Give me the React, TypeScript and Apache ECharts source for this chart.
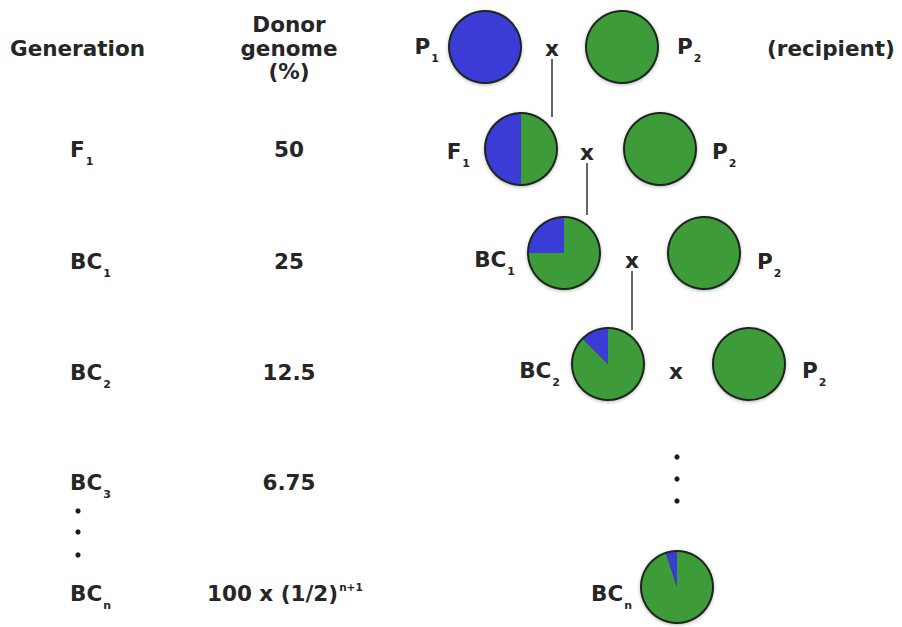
import React, { useEffect, useRef } from 'react';
import * as echarts from 'echarts';

const FONT = "'DejaVu Sans', Verdana, sans-serif";
const TEXT_COLOR = '#262626';
const DONOR_COLOR = '#3b3bd6';
const RECIPIENT_COLOR = '#3d9c39';
const OUTLINE = '#1c261c';
const FS = 21.5;

// Left table
const headerGeneration = 'Generation';
const headerDonor = 'Donor\ngenome\n(%)';
const genBase = ['F', 'BC', 'BC', 'BC', 'BC'];
const genSub = ['1', '1', '2', '3', 'n'];
const donorText = ['50', '25', '12.5', '6.75'];
const formulaBase = '100 x (1/2)';
const formulaSup = 'n+1';

// Crossing scheme: individuals and their donor genome share (%)
const plantBase = ['P', 'P', 'F', 'P', 'BC', 'P', 'BC', 'P', 'BC'];
const plantSub = ['1', '2', '1', '2', '1', '2', '2', '2', 'n'];
const plantDonor = [100, 0, 50, 0, 25, 0, 12.5, 0, 5];
const recipientNote = '(recipient)';

// Layout (positions only)
const R = 36;
const plantLayout = [
  { cx: 485, cy: 47, lx: 439, ly: 46, side: 'left' },
  { cx: 622, cy: 47, lx: 677, ly: 46, side: 'right' },
  { cx: 521, cy: 149, lx: 470, ly: 151, side: 'left' },
  { cx: 660, cy: 149, lx: 712, ly: 151, side: 'right' },
  { cx: 564, cy: 253, lx: 515, ly: 259, side: 'left' },
  { cx: 704, cy: 253, lx: 757, ly: 261, side: 'right' },
  { cx: 608, cy: 364, lx: 560, ly: 370, side: 'left' },
  { cx: 749, cy: 364, lx: 802, ly: 370, side: 'right' },
  { cx: 677, cy: 587, lx: 632, ly: 593, side: 'left' },
];
const crossLayout = [
  { x: 552, y: 48 },
  { x: 587, y: 152 },
  { x: 632, y: 260 },
  { x: 676, y: 371 },
];
const linkLayout = [
  { x: 552, y1: 59, y2: 117 },
  { x: 587, y1: 163, y2: 215 },
  { x: 632, y1: 271, y2: 330 },
];
const rowY = [149, 261, 372, 482, 593];
const genX = 70;
const donorX = 289;
const leftDots = [{ x: 78, y: 511 }, { x: 78, y: 532 }, { x: 78, y: 555 }];
const rightDots = [{ x: 677, y: 457 }, { x: 677, y: 479 }, { x: 677, y: 501 }];

const baseRich = {
  m: { fontSize: FS, fontWeight: 'bold', fontFamily: FONT, fill: TEXT_COLOR, lineHeight: 35 },
  f: { fontSize: FS, fontWeight: 'bold', fontFamily: FONT, fill: TEXT_COLOR, lineHeight: 23 },
  s: { fontSize: 11, fontWeight: 'bold', fontFamily: FONT, fill: TEXT_COLOR, verticalAlign: 'bottom', padding: [0, 0, 0, 1] },
  p: { fontSize: 10.5, fontWeight: 'bold', fontFamily: FONT, fill: TEXT_COLOR, verticalAlign: 'top', padding: [0, 0, 0, 1] },
};

function txt(x: number, y: number, text: string, align = 'left', extra: any = {}) {
  return {
    type: 'text',
    x,
    y,
    z: 20,
    silent: true,
    style: {
      text,
      rich: baseRich,
      fontSize: FS,
      fontWeight: 'bold',
      fontFamily: FONT,
      fill: TEXT_COLOR,
      align,
      textAlign: align,
      verticalAlign: 'middle',
      textVerticalAlign: 'middle',
      ...extra,
    },
  };
}

export default function App() {
  const ref = useRef<HTMLDivElement>(null);
  useEffect(() => {
    if (!ref.current) return;
    const chart = echarts.init(ref.current, null, { renderer: 'svg' });

    const series: any[] = plantDonor.map((donor, i) => {
      const L = plantLayout[i];
      const data: any[] = [];
      if (100 - donor > 0) data.push({ name: 'Recipient', value: 100 - donor, itemStyle: { color: RECIPIENT_COLOR } });
      if (donor > 0) data.push({ name: 'Donor', value: donor, itemStyle: { color: DONOR_COLOR } });
      return {
        type: 'pie',
        name: plantBase[i] + plantSub[i],
        center: [L.cx, L.cy],
        radius: R,
        startAngle: 90,
        clockwise: true,
        silent: true,
        z: 5,
        label: { show: false },
        labelLine: { show: false },
        itemStyle: { borderWidth: 0 },
        emphasis: { disabled: true },
        data,
      };
    });

    const graphics: any[] = [];
    // header
    graphics.push(txt(10, 48, headerGeneration, 'left'));
    graphics.push(txt(donorX, 48, headerDonor, 'center', { lineHeight: 23.5 }));
    // table rows
    genBase.forEach((b, i) => {
      graphics.push(txt(genX, rowY[i], `{m|${b}}{s|${genSub[i]}}`, 'left'));
    });
    donorText.forEach((t, i) => {
      graphics.push(txt(donorX, rowY[i], t, 'center'));
    });
    graphics.push(txt(207, rowY[4], `{f|${formulaBase}}{p|${formulaSup}}`, 'left'));
    leftDots.concat(rightDots).forEach((d) => {
      graphics.push({ type: 'circle', z: 20, silent: true, shape: { cx: d.x, cy: d.y, r: 2.6 }, style: { fill: '#1a1a1a' } });
    });

    // plants: shadow disc, outline ring, label
    plantLayout.forEach((L, i) => {
      graphics.push({
        type: 'circle', z: 1, silent: true,
        shape: { cx: L.cx, cy: L.cy, r: R },
        style: { fill: '#2a2a2a', shadowBlur: 4, shadowColor: 'rgba(0,0,0,0.45)', shadowOffsetX: 0, shadowOffsetY: 1 },
      });
      graphics.push({
        type: 'circle', z: 30, silent: true,
        shape: { cx: L.cx, cy: L.cy, r: R },
        style: { fill: 'none', stroke: OUTLINE, lineWidth: 2 },
      });
      graphics.push(txt(L.lx, L.ly, `{m|${plantBase[i]}}{s|${plantSub[i]}}`, L.side === 'left' ? 'right' : 'left'));
    });
    graphics.push(txt(767, 48, recipientNote, 'left'));
    crossLayout.forEach((c) => graphics.push(txt(c.x, c.y, 'x', 'center')));
    linkLayout.forEach((l) => {
      graphics.push({
        type: 'line', z: 20, silent: true,
        shape: { x1: l.x, y1: l.y1, x2: l.x, y2: l.y2 },
        style: { stroke: '#333', lineWidth: 1.5 },
      });
    });

    chart.setOption({
      animation: false,
      backgroundColor: '#ffffff',
      series,
      graphic: { elements: graphics },
    });
    return () => chart.dispose();
  }, []);
  return <div ref={ref} style={{ position: 'fixed', left: 0, top: 0, width: 902, height: 627 }} />;
}
